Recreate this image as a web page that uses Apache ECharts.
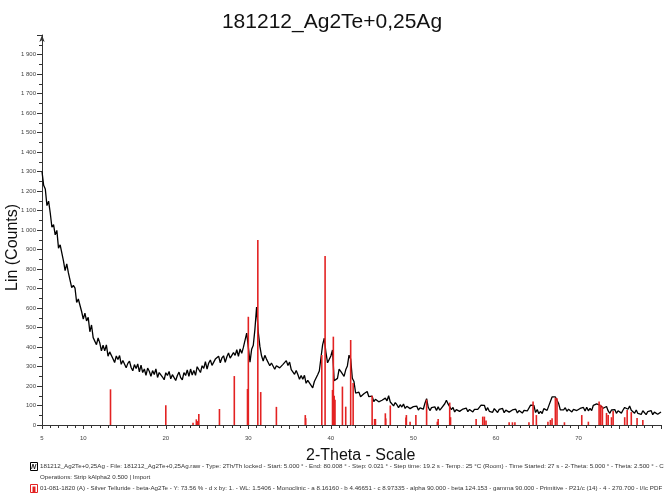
<!DOCTYPE html>
<html>
<head>
<meta charset="utf-8">
<script src="https://cdn.jsdelivr.net/npm/echarts@6/dist/echarts.min.js"></script>
<style>
html,body{margin:0;padding:0;background:#fff;}
#chart{width:664px;height:494px;}
</style>
</head>
<body>
<div id="chart"></div>
<script>
// ---- Data ----
const chartTitle = '181212_Ag2Te+0,25Ag';
const twoThetaStart = 5.0;
const twoThetaStep = 0.2;
// measured intensity (Lin counts), one value per step from 5.0 to 80.0
const counts = [
  1300,1229,1210,1125,1148,1087,1014,1028,975,998,
  907,924,917,842,792,826,780,790,705,716,
  702,628,646,644,582,543,574,534,552,478,
  513,448,458,412,447,421,380,409,380,411,
  353,375,380,340,320,354,336,356,311,331,
  335,294,316,328,295,278,310,290,313,273,
  307,269,287,255,292,276,250,279,259,288,
  244,269,278,246,232,268,254,275,237,258,
  265,228,254,271,243,232,269,254,283,249,
  287,256,280,255,299,289,269,304,290,325,
  287,318,333,306,297,338,328,353,319,344,
  355,321,350,369,343,333,371,357,386,352,
  390,368,398,395,471,399,322,388,409,492,
  605,478,403,355,328,357,338,345,304,318,
  321,286,304,314,293,284,311,301,330,305,
  323,284,290,260,279,259,234,254,235,255,
  214,229,234,203,190,223,220,258,277,345,
  411,445,373,319,314,354,385,227,231,239,
  286,275,285,249,283,303,358,338,240,223,
  164,166,168,145,135,160,155,172,145,154,
  148,120,132,137,119,110,127,120,138,124,
  150,118,119,98,115,104,89,104,92,108,
  85,96,100,84,76,94,86,97,77,88,
  94,81,112,135,91,74,89,80,93,74,
  93,76,87,77,109,127,108,98,79,90,
  67,79,85,70,63,82,76,87,68,80,
  85,67,80,90,80,77,102,96,101,74,
  89,70,79,65,84,77,64,80,70,85,
  63,76,82,66,59,77,70,81,62,74,
  80,61,75,84,72,69,102,110,101,64,
  79,58,70,59,84,82,75,98,107,144,
  136,144,145,110,78,87,78,89,70,81,
  86,67,80,88,74,67,85,77,90,72,
  91,73,85,74,101,107,108,118,102,112,
  86,96,95,72,60,77,68,79,60,73,
  78,61,77,90,81,81,97,76,81,60,
  77,59,68,54,73,66,53,69,60,74,
  53,66,71,55,48,67
];
// reference pattern 01-081-1820 (beta-Ag2Te) stick positions and heights
const stickTheta = [13.3,20.0,23.3,23.7,23.85,24.0,26.5,28.3,29.9,30.0,31.15,31.5,33.4,36.9,36.95,
  38.9,39.3,40.2,40.3,40.4,40.5,41.4,41.8,42.4,42.7,45.0,45.3,45.4,46.6,46.65,47.2,49.1,49.15,49.6,
  50.3,51.6,52.9,53.0,54.4,54.5,57.6,58.4,58.6,58.8,61.6,62.0,62.3,64.0,64.5,64.9,66.3,66.6,66.8,
  67.2,67.4,68.3,70.4,71.2,72.5,72.7,72.9,73.4,73.6,74.0,74.2,75.6,75.9,76.4,77.1,77.8];
const stickCounts = [183,101,12,29,20,56,82,251,185,555,949,169,93,51,35,
  359,867,180,453,150,130,197,94,436,215,150,31,31,60,34,100,39,51,17,
  51,130,17,31,115,40,31,43,43,23,14,14,14,14,120,51,17,26,34,
  140,137,14,51,17,120,103,95,62,51,40,72,40,77,66,36,26];
const xTickLabels = [5,10,20,30,40,50,60,70];
const xAxisTitle = '2-Theta - Scale';
const yAxisTitle = 'Lin (Counts)';
const legendLine1 = '181212_Ag2Te+0,25Ag - File: 181212_Ag2Te+0,25Ag.raw - Type: 2Th/Th locked - Start: 5.000 ° - End: 80.008 ° - Step: 0.021 ° - Step time: 19.2 s - Temp.: 25 °C (Room) - Time Started: 27 s - 2-Theta: 5.000 ° - Theta: 2.500 ° - C';
const legendLine2 = 'Operations: Strip kAlpha2 0.500 | Import';
const legendLine3 = '01-081-1820 (A) - Silver Telluride - beta-Ag2Te - Y: 73.56 % - d x by: 1. - WL: 1.5406 - Monoclinic - a 8.16160 - b 4.46651 - c 8.97335 - alpha 90.000 - beta 124.153 - gamma 90.000 - Primitive - P21/c (14) - 4 - 270.700 - I/Ic PDF';

// ---- Build ----
const lineData = counts.map((c, i) => [+(twoThetaStart + i * twoThetaStep).toFixed(3), c]);
const stickData = stickTheta.map((t, i) => [t, stickCounts[i]]);
const font = 'Liberation Sans, Arial, sans-serif';

const chart = echarts.init(document.getElementById('chart'), null, {renderer: 'canvas'});
chart.setOption({
  animation: false,
  backgroundColor: '#ffffff',
  title: {
    text: chartTitle, left: 'center', top: 7,
    textStyle: {fontSize: 21, fontWeight: 'normal', color: '#111', fontFamily: font}
  },
  grid: {left: 42, right: -3, top: 35, bottom: 69, containLabel: false},
  xAxis: {
    type: 'value', min: 5, max: 80, interval: 5,
    axisLine: {show: true, lineStyle: {color: '#333', width: 1}},
    axisTick: {show: true, length: 4, lineStyle: {color: '#333'}},
    minorTick: {show: true, splitNumber: 5, length: 3, lineStyle: {color: '#333'}},
    splitLine: {show: false},
    axisLabel: {
      margin: 10, fontSize: 6, color: '#444', fontFamily: font,
      formatter: v => xTickLabels.indexOf(v) >= 0 ? String(v) : ''
    }
  },
  yAxis: {
    type: 'value', min: 0, max: 2000, interval: 100,
    axisLine: {show: true, lineStyle: {color: '#333', width: 1}, symbol: ['none', 'arrow'], symbolSize: [4, 7]},
    axisTick: {show: true, length: 5, lineStyle: {color: '#333'}},
    minorTick: {show: true, splitNumber: 2, length: 3, lineStyle: {color: '#333'}},
    splitLine: {show: false},
    axisLabel: {
      margin: 6, fontSize: 6, color: '#444', fontFamily: font, showMaxLabel: false,
      formatter: v => v >= 1000 ? Math.floor(v / 1000) + ' ' + String(v % 1000).padStart(3, '0') : String(v)
    }
  },
  series: [
    {
      type: 'line', data: lineData, showSymbol: false, symbol: 'none',
      lineStyle: {color: '#000', width: 1.3}, z: 2, clip: true
    },
    {
      type: 'bar', data: stickData, barWidth: 1.6, barGap: '-100%',
      itemStyle: {color: '#e32222'}, z: 3
    }
  ],
  graphic: [
    {type: 'text', left: 306, top: 448, style: {text: xAxisTitle, font: '16px ' + font, fill: '#111'}},
    {type: 'text', x: 5, y: 291, rotation: Math.PI / 2, style: {text: yAxisTitle, font: '16px ' + font, fill: '#111'}},
    {type: 'rect', shape: {x: 30.5, y: 462.5, width: 7, height: 8}, style: {fill: '#fff', stroke: '#000', lineWidth: 1}},
    {type: 'polyline', shape: {points: [[31.5, 469], [33, 464], [34.5, 469], [36, 464]]}, style: {stroke: '#000', fill: null, lineWidth: 0.8}},
    {type: 'text', left: 40, top: 463, style: {text: legendLine1, font: '6.2px ' + font, fill: '#333'}},
    {type: 'text', left: 40, top: 474, style: {text: legendLine2, font: '6.2px ' + font, fill: '#333'}},
    {type: 'rect', shape: {x: 30.5, y: 484.5, width: 7, height: 8}, style: {fill: '#fff', stroke: '#e32222', lineWidth: 1}},
    {type: 'rect', shape: {x: 32.5, y: 486.5, width: 3, height: 6}, style: {fill: '#e32222'}},
    {type: 'text', left: 40, top: 485, style: {text: legendLine3, font: '6.2px ' + font, fill: '#333'}}
  ]
});
</script>
</body>
</html>
